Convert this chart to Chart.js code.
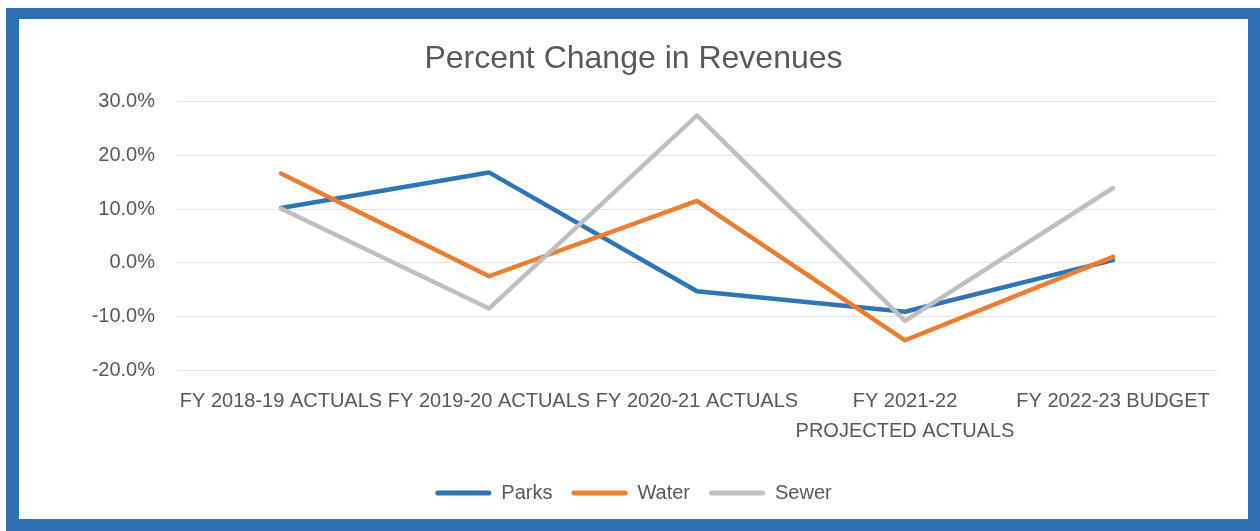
<!DOCTYPE html>
<html>
<head>
<meta charset="utf-8">
<script src="https://cdn.jsdelivr.net/npm/chart.js@4.4.1/dist/chart.umd.min.js"></script>
<style>
  html, body { margin: 0; padding: 0; background: #ffffff; width: 1260px; height: 531px; overflow: hidden; }
  #frame { position: absolute; left: 6px; top: 8px; width: 1254px; height: 523px; background: #2e70b3; }
  #wrap { position: absolute; left: 13px; top: 11px; width: 1229px; height: 500px; background: #ffffff; }
</style>
</head>
<body>
<div id="frame"><div id="wrap"><canvas id="c" width="1229" height="500"></canvas></div></div>
<script>
const categories = ['FY 2018-19 ACTUALS', 'FY 2019-20 ACTUALS', 'FY 2020-21 ACTUALS', ['FY 2021-22', 'PROJECTED ACTUALS'], 'FY 2022-23 BUDGET'];
const parks = [10.2, 16.8, -5.3, -9.1, 0.5];
const water = [16.6, -2.5, 11.5, -14.4, 1.1];
const sewer = [10.1, -8.5, 27.4, -10.8, 13.9];
const yTicks = [-20, -10, 0, 10, 20, 30];

const FONT = "'Liberation Sans', Arial, sans-serif";
const TXT = '#595959';

function ds(label, data, color, order) {
  return {
    label, data, order,
    borderColor: color, backgroundColor: color,
    borderWidth: 4.5, pointRadius: 0, pointHoverRadius: 0,
    tension: 0, borderCapStyle: 'round', borderJoinStyle: 'round', fill: false
  };
}

new Chart(document.getElementById('c'), {
  type: 'line',
  data: {
    labels: categories,
    datasets: [
      ds('Parks', parks, '#2e75b6', 3),
      ds('Water', water, '#ed7d31', 2),
      ds('Sewer', sewer, '#bfbfbf', 1)
    ]
  },
  options: {
    responsive: false,
    animation: false,
    devicePixelRatio: 1,
    layout: { padding: { left: 0, right: 0, top: 0, bottom: 6 } },
    plugins: {
      tooltip: { enabled: false },
      title: {
        display: true,
        text: 'Percent Change in Revenues',
        color: TXT,
        font: { family: FONT, size: 32, weight: 'normal' },
        padding: { top: 21, bottom: 23 }
      },
      legend: {
        position: 'bottom',
        labels: {
          color: TXT,
          font: { family: FONT, size: 20 },
          boxWidth: 56,
          boxHeight: 5,
          padding: 19,
          useBorderRadius: true,
          borderRadius: 2.5,
          sort: (a, b) => a.datasetIndex - b.datasetIndex,
          generateLabels: (chart) => {
            const items = Chart.defaults.plugins.legend.labels.generateLabels(chart);
            items.forEach(it => { it.lineWidth = 0; it.strokeStyle = 'rgba(0,0,0,0)'; });
            return items;
          }
        }
      }
    },
    scales: {
      x: {
        offset: true,
        grid: { display: false, drawTicks: false },
        border: { display: false },
        ticks: {
          color: TXT, autoSkip: false, maxRotation: 0, minRotation: 0, padding: 16,
          font: { family: FONT, size: 20, lineHeight: 1.5 }
        },
        afterFit: (s) => { s.height = 93.6; }
      },
      y: {
        min: -20, max: 30,
        grid: { color: '#e4e4e4', lineWidth: 1, drawTicks: false },
        border: { display: false },
        afterBuildTicks: (s) => { s.ticks = yTicks.map(v => ({ value: v })); },
        ticks: {
          color: TXT, padding: 22,
          font: { family: FONT, size: 20 },
          callback: (v) => Number(v).toFixed(1) + '%'
        },
        afterFit: (s) => { s.width = 158; }
      },
      yRightSpace: {
        position: 'right',
        min: -20, max: 30,
        grid: { display: false, drawTicks: false },
        border: { display: false },
        ticks: { display: false },
        afterFit: (s) => { s.width = 31; }
      }
    }
  }
});
</script>
</body>
</html>
